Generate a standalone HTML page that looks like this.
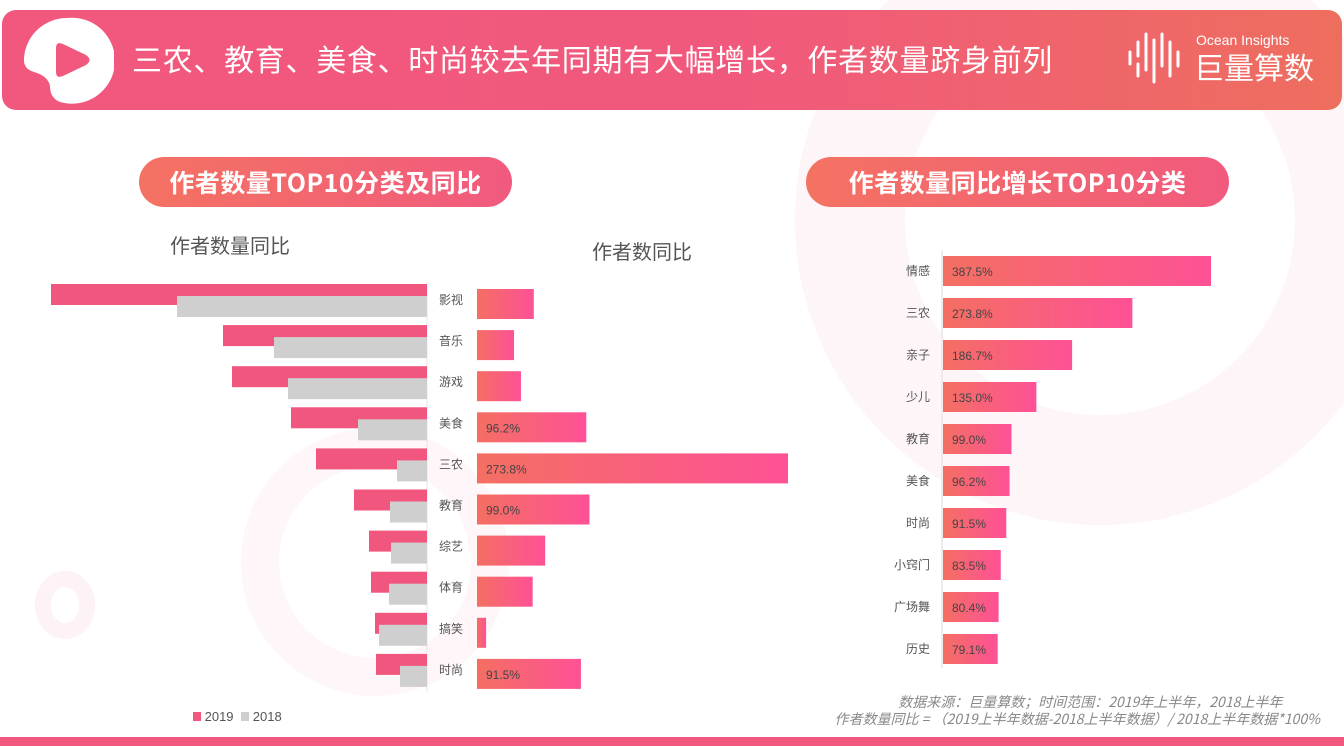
<!DOCTYPE html>
<html><head><meta charset="utf-8">
<style>
html,body{margin:0;padding:0;width:1344px;height:746px;overflow:hidden;background:#fff;font-family:"Liberation Sans","Noto Sans CJK SC",sans-serif;}
#root{position:relative;width:1344px;height:746px;}
.abs{position:absolute;}
.banner{left:2px;top:10px;width:1340px;height:100px;border-radius:14px;background:linear-gradient(90deg,#f2587e 0%,#f1597c 55%,#ee6e5e 100%);}
.title{left:132px;top:36px;color:#fff;font-size:30px;letter-spacing:0.7px;font-family:"Noto Sans CJK SC",sans-serif;white-space:nowrap;}
.pill{height:50px;border-radius:25px;background:linear-gradient(90deg,#f47262,#f15a7e);color:#fff;font-weight:bold;font-size:25px;letter-spacing:0.5px;line-height:50px;text-align:center;font-family:"Noto Sans CJK SC",sans-serif;white-space:nowrap;}
.sub{color:#555;font-size:20px;font-family:"Noto Sans CJK SC",sans-serif;}
.note{color:#888;font-style:italic;font-size:14px;line-height:17px;text-align:right;right:24px;font-family:"Noto Sans CJK SC",sans-serif;white-space:nowrap;}
</style></head><body>
<div id="root">
<svg class="abs" style="left:0;top:0" width="1344" height="746">
  <circle cx="1100" cy="220" r="250" fill="none" stroke="#fef5f8" stroke-width="110"/>
  <circle cx="375" cy="562" r="115" fill="none" stroke="#fef6f8" stroke-width="38"/>
  <ellipse cx="65" cy="605" rx="22" ry="26" fill="none" stroke="#fdf2f5" stroke-width="16"/>
  <rect x="0" y="737" width="1344" height="9" fill="#f2587e"/>
</svg>
<div class="abs banner"></div>
<svg class="abs" style="left:20px;top:14px" width="94" height="94">
  <path d="M47 4 A43 43 0 1 1 40 88 Q30 84 30 72 Q28 62 14 58 Q3 55 4 44 A43 43 0 0 1 47 4Z" fill="#fff"/>
  <path d="M36 34 Q36 27 43 30 L66 41 Q73 46 66 51 L43 62 Q36 65 36 58Z" fill="#f2587e"/>
</svg>
<div class="abs title">三农、教育、美食、时尚较去年同期有大幅增长，作者数量跻身前列</div>
<svg class="abs" style="left:1126px;top:30px" width="60" height="56">
  <g stroke="#fff" stroke-width="3" stroke-linecap="round">
    <line x1="4" y1="22" x2="4" y2="34"/><line x1="12" y1="12" x2="12" y2="26"/><line x1="12" y1="34" x2="12" y2="46"/>
    <line x1="20" y1="4" x2="20" y2="40"/><line x1="28" y1="10" x2="28" y2="52"/><line x1="36" y1="4" x2="36" y2="36"/>
    <line x1="44" y1="12" x2="44" y2="46"/><line x1="52" y1="22" x2="52" y2="36"/>
  </g>
</svg>
<div class="abs" style="left:1196px;top:32px;color:#fff;font-size:14px;">Ocean Insights</div>
<div class="abs" style="left:1194px;top:46px;color:#fff;font-size:30px;font-family:'Noto Sans CJK SC',sans-serif;line-height:40px">巨量算数</div>

<div class="abs pill" style="left:139px;top:157px;width:373px">作者数量TOP10分类及同比</div>
<div class="abs pill" style="left:806px;top:157px;width:423px">作者数量同比增长TOP10分类</div>
<div class="abs sub" style="left:170px;top:230px">作者数量同比</div>
<div class="abs sub" style="left:592px;top:236px">作者数同比</div>

<svg id="chart" class="abs" style="left:0;top:0" width="1344" height="746">
<defs>
<linearGradient id="g" x1="0" x2="1" y1="0" y2="0"><stop offset="0" stop-color="#f46f62"/><stop offset="1" stop-color="#fe5196"/></linearGradient>
</defs>
</svg>
<div class="abs" style="left:193px;top:709px;font-size:13px;color:#555">
<span><span style="display:inline-block;width:8px;height:9px;background:#f2587e"></span> 2019</span>
<span style="margin-left:4px"><span style="display:inline-block;width:8px;height:9px;background:#d0cfd0"></span> 2018</span>
</div>
<div class="abs note" style="top:694px">数据来源：巨量算数；时间范围：2019年上半年，2018上半年&nbsp;&nbsp;&nbsp;&nbsp;&nbsp;&nbsp;&nbsp;&nbsp;&nbsp;&nbsp;&nbsp;&nbsp;<br>作者数量同比 = （2019上半年数据-2018上半年数据）/ 2018上半年数据*100%</div>
</div>
<script>
const leftCats=["影视","音乐","游戏","美食","三农","教育","综艺","体育","搞笑","时尚"];
const v2019=[376,204,195,136,111,73,58,56,52,51];
const v2018=[250,153,139,69,30,37,36,38,48,27];
const growth=[50,32.6,38.7,96.2,273.8,99.0,60,49,8,91.5];
const growthLabels=["","","","96.2%","273.8%","99.0%","","","","91.5%"];
const rightCats=["情感","三农","亲子","少儿","教育","美食","时尚","小窍门","广场舞","历史"];
const rightVals=[387.5,273.8,186.7,135.0,99.0,96.2,91.5,83.5,80.4,79.1];
const rightLabels=["387.5%","273.8%","186.7%","135.0%","99.0%","96.2%","91.5%","83.5%","80.4%","79.1%"];

const svg=document.getElementById('chart');
const NS='http://www.w3.org/2000/svg';
function mk(t,a){const e=document.createElementNS(NS,t);for(const k in a)e.setAttribute(k,a[k]);svg.appendChild(e);return e;}
const axisX=427, leftScale=1, rowY=i=>284+i*41.1;
const gScale=311/273.8, gx=477;
const ax=mk('line',{x1:axisX,y1:282,x2:axisX,y2:692,stroke:'#e6e6e6','stroke-width':1});


leftCats.forEach((c,i)=>{
  const y=rowY(i);
  const b1=mk('rect',{x:axisX-v2019[i]*leftScale,y:y,width:v2019[i]*leftScale,height:21,fill:'#f0567e'});
  
  
  const b2=mk('rect',{x:axisX-v2018[i]*leftScale,y:y+12,width:v2018[i]*leftScale,height:21,fill:'#d0cfd0'});
  
  
  const t=mk('text',{x:439,y:y+20,'font-size':12,fill:'#555','font-family':'Noto Sans CJK SC, sans-serif'});
  t.textContent=c;
  
  
  const g=mk('rect',{x:gx,y:y+5,width:growth[i]*gScale,height:30,fill:'url(#g)'});
  
  
  if(growthLabels[i]){
    const l=mk('text',{x:486,y:y+25,'font-size':12,fill:'#444','font-family':'Liberation Sans, sans-serif'});
    l.textContent=growthLabels[i];
    
    
  }
});
const rx=943, rScale=268/387.5, rRow=i=>256+i*42;
const rax=mk('line',{x1:942,y1:250,x2:942,y2:668,stroke:'#e6e6e6','stroke-width':1.5});


rightCats.forEach((c,i)=>{
  const y=rRow(i);
  const t=mk('text',{x:930,y:y+19,'font-size':12,fill:'#555','text-anchor':'end','font-family':'Noto Sans CJK SC, sans-serif'});
  t.textContent=c;
  
  
  const b=mk('rect',{x:rx,y:y,width:rightVals[i]*rScale,height:30,fill:'url(#g)'});
  
  
  const l=mk('text',{x:952,y:y+20,'font-size':12,fill:'#444','font-family':'Liberation Sans, sans-serif'});
  l.textContent=rightLabels[i];
  
  
});
</script>
</body></html>
